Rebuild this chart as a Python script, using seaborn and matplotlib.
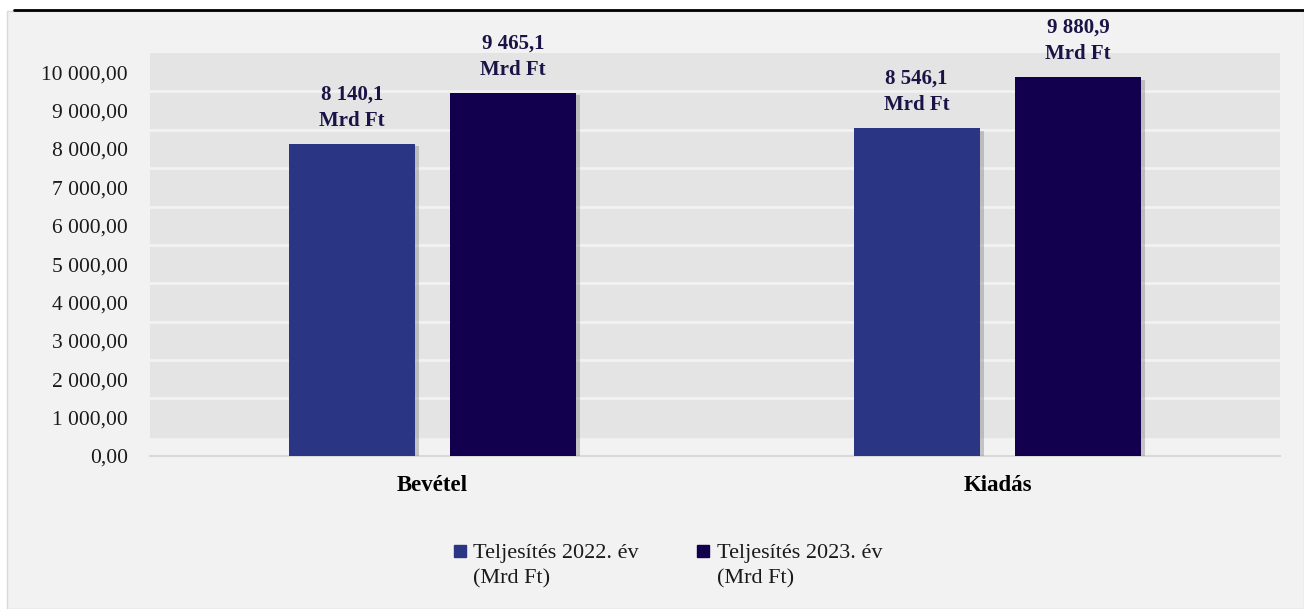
import pandas as pd
import seaborn as sns
import matplotlib.pyplot as plt
import matplotlib.patheffects as pe
from matplotlib.patches import Rectangle
from matplotlib.lines import Line2D

# Values (Mrd Ft)
categories = ['Bevétel', 'Kiadás']
series_names = ['Teljesítés 2022. év', 'Teljesítés 2023. év']
unit_label = '(Mrd Ft)'
values_2022 = [8140.1, 8546.1]
values_2023 = [9465.1, 9880.9]
colors = ['#2a3683', '#12004f']
y_ticks = list(range(0, 10001, 1000))

df = pd.DataFrame({
    'kategoria': categories * 2,
    'ertek': values_2022 + values_2023,
    'ev': [series_names[0]] * 2 + [series_names[1]] * 2,
})

sns.set_style('white')
plt.rcParams['font.family'] = ['Liberation Serif', 'DejaVu Serif']

W, H = 1304, 609
fig = plt.figure(figsize=(W / 100, H / 100), dpi=100, facecolor='white')

# grey panel and top black rule
fig.patches.append(Rectangle((7 / W, 0), 1 - 7 / W, 1 - 11 / H, transform=fig.transFigure,
                             facecolor='#f2f2f2', edgecolor='#d9d9d9', lw=1, zorder=-5))
fig.lines.append(Line2D([14 / W, 1], [1 - 9.5 / H] * 2, transform=fig.transFigure,
                        color='black', lw=2))

ax = fig.add_axes([150 / W, (H - 456) / H, 1130 / W, (456 - 53) / H])
ax.set_facecolor('#f2f2f2')
ax.axhspan(500, 10500, color='#e4e4e4', zorder=0)

sns.barplot(data=df, x='kategoria', y='ertek', hue='ev', palette=colors, saturation=1,
            width=0.572, gap=0.22, ax=ax, legend=False, zorder=3, edgecolor='none', linewidth=0)

for cont in ax.containers:
    for bar in cont:
        bar.set_path_effects([pe.SimplePatchShadow(offset=(3, -2), shadow_rgbFace='#8c8c8c', alpha=0.45),
                              pe.Normal()])
    labels = [f"{v:,.1f}".replace(',', ' ').replace('.', ',') + "\nMrd Ft" for v in cont.datavalues]
    ax.bar_label(cont, labels=labels, padding=9, fontsize=15, fontweight='bold',
                 color='#1a1446', linespacing=1.45)

ax.set_xlim(-0.5, 1.5)
ax.set_ylim(0, 10500)
ax.set_yticks(y_ticks)
ax.set_yticklabels([f"{v:,.2f}".replace(',', ' ').replace('.', ',') for v in y_ticks])
ax.set_yticks([v + 500 for v in y_ticks[1:-1]], minor=True)
ax.grid(which='minor', axis='y', color='#f2f2f2', lw=2, zorder=1)
ax.set_axisbelow(True)
ax.tick_params(axis='y', which='both', length=0, pad=16, labelsize=15.5, labelcolor='#1a1a1a')
ax.tick_params(axis='x', length=0, pad=14, labelsize=16.5, labelcolor='black')
for lab in ax.get_xticklabels():
    lab.set_fontweight('bold')
ax.set_xlabel('')
ax.set_ylabel('')
for s in ['top', 'right', 'left']:
    ax.spines[s].set_visible(False)
ax.spines['bottom'].set_color('#d9d9d9')
ax.spines['bottom'].set_linewidth(1.5)

handles = [Line2D([], [], marker='s', linestyle='', markersize=9, color=c) for c in colors]
leg = fig.legend(handles, series_names, loc='center', bbox_to_anchor=(667 / W, 1 - 553 / H), ncol=2,
                 frameon=False, fontsize=16, handlelength=0.7, handletextpad=0.25,
                 columnspacing=2.55, labelcolor='#1a1a1a')

# second line of every legend entry, under its label
fig.canvas.draw()
for t in leg.get_texts():
    bb = t.get_window_extent()
    fig.text(bb.x0 / W, (bb.y0 - 25) / H, unit_label, fontsize=16, color='#1a1a1a',
             ha='left', va='bottom')

fig.savefig('out.png', dpi=100, facecolor='white')
